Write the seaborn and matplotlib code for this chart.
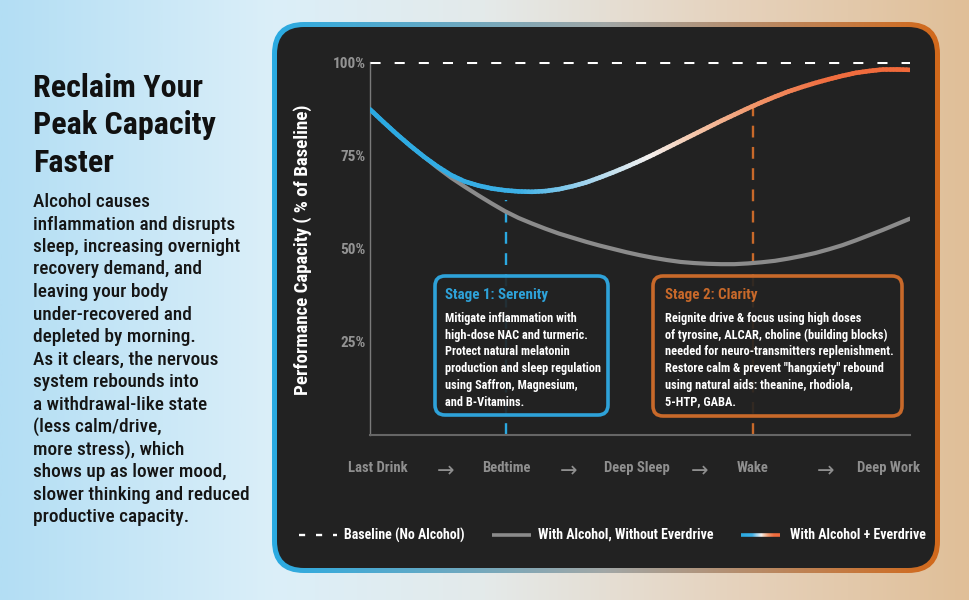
import numpy as np
import matplotlib
matplotlib.use("Agg")
import matplotlib.pyplot as plt
import seaborn as sns
from matplotlib import font_manager as fm
from matplotlib.patches import FancyBboxPatch
from matplotlib.collections import LineCollection
from matplotlib.colors import LinearSegmentedColormap
from matplotlib.transforms import Affine2D

# ---------------- data ----------------
x_pos = [0, 2.5, 5, 7.5, 10, 12.5, 15, 17.5, 20, 22.5, 25, 27.5, 30, 32.5, 35, 37.5, 40,
         42.5, 45, 47.5, 50, 52.5, 55, 57.5, 60, 62.5, 65, 67.5, 70, 72.5, 75, 77.5, 80,
         82.5, 85, 87.5, 90, 92.5, 95, 97.5, 100]
with_everdrive = [87.3, 83.9, 80.6, 77.5, 74.6, 72.0, 69.7, 68.0, 66.9, 66.1, 65.6, 65.3,
                  65.2, 65.4, 65.9, 66.7, 67.7, 69.0, 70.4, 71.9, 73.5, 75.2, 77.0, 78.8,
                  80.6, 82.4, 84.2, 85.9, 87.6, 89.2, 90.7, 92.1, 93.3, 94.4, 95.4, 96.3,
                  97.1, 97.6, 98.0, 98.0, 97.9]
without_everdrive = [87.3, 83.9, 80.6, 77.5, 74.6, 71.7, 69.0, 66.6, 64.3, 62.1, 60.0, 58.2,
                     56.7, 55.3, 54.0, 52.9, 51.8, 50.8, 49.9, 49.0, 48.2, 47.5, 46.9, 46.4,
                     46.1, 45.9, 45.8, 45.8, 46.0, 46.3, 46.7, 47.3, 48.0, 48.8, 49.8, 50.9,
                     52.2, 53.6, 55.0, 56.5, 58.0]
baseline_value = 100

stage_names = ["Last Drink", "Bedtime", "Deep Sleep", "Wake", "Deep Work"]
stage_pos = [1.5, 25.2, 49.4, 70.9, 96.1]
arrow_pos = [13.9, 36.7, 61.1, 84.3]

y_ticks = [25, 50, 75, 100]
y_tick_labels = ["25%", "50%", "75%", "100%"]

marker_x = [25.2, 70.9]
marker_top = [63.0, 88.0]

title_lines = ["Reclaim Your", "Peak Capacity", "Faster"]
body_lines = [
    "Alcohol causes",
    "inflammation and disrupts",
    "sleep, increasing overnight",
    "recovery demand, and",
    "leaving your body",
    "under-recovered and",
    "depleted by morning.",
    "As it clears, the nervous",
    "system rebounds into",
    "a withdrawal-like state",
    "(less calm/drive,",
    "more stress), which",
    "shows up as lower mood,",
    "slower thinking and reduced",
    "productive capacity.",
]
stage1_title = "Stage 1: Serenity"
stage1_lines = [
    "Mitigate inflammation with",
    "high-dose NAC and turmeric.",
    "Protect natural melatonin",
    "production and sleep regulation",
    "using Saffron, Magnesium,",
    "and B-Vitamins.",
]
stage2_title = "Stage 2: Clarity"
stage2_lines = [
    "Reignite drive & focus using high doses",
    "of tyrosine, ALCAR, choline (building blocks)",
    "needed for neuro-transmitters replenishment.",
    "Restore calm & prevent \"hangxiety\" rebound",
    "using natural aids: theanine, rhodiola,",
    "5-HTP, GABA.",
]
legend_labels = ["Baseline (No Alcohol)", "With Alcohol, Without Everdrive", "With Alcohol + Everdrive"]

# ---------------- style ----------------
sns.set_style("dark")
names = {f.name for f in fm.fontManager.ttflist}
COND = next((n for n in ["Roboto Condensed", "Open Sans Condensed", "Liberation Sans Narrow",
                         "DejaVu Sans"] if n in names), "DejaVu Sans")
plt.rcParams["font.family"] = [COND, "DejaVu Sans"]

BLUE = "#2BA9E1"
ORANGE = "#C8692A"
GREY = "#8b8b8b"
PANEL = "#222222"

W, H = 970, 600
fig = plt.figure(figsize=(W / 100, H / 100), dpi=100)
PX = Affine2D().scale(1 / W, -1 / H).translate(0, 1) + fig.transFigure

# ---------------- background + panel ----------------
bg = fig.add_axes([0, 0, 1, 1], zorder=0)
bg.axis("off")
grad = np.linspace(0, 1, 512)[None, :]
bg_cmap = LinearSegmentedColormap.from_list(
    "bg", [(0, "#b3def4"), (0.28, "#dbeff9"), (0.5, "#e4eaea"), (0.75, "#e6d3be"), (1, "#e0bf98")])
bg.imshow(grad, extent=(0, W, H, 0), cmap=bg_cmap, aspect="auto", zorder=0)

outer = FancyBboxPatch((272, 22), 668, 551, boxstyle="round,pad=0,rounding_size=32",
                       facecolor="none", edgecolor="none")
bg.add_patch(outer)
border_cmap = LinearSegmentedColormap.from_list(
    "border", [(0, "#2AABE2"), (0.5, "#A2A7A6"), (1, "#D2691B")])
im = bg.imshow(grad, extent=(272, 940, 573, 22), cmap=border_cmap, aspect="auto", zorder=1)
im.set_clip_path(outer)
inner = FancyBboxPatch((277, 27), 658, 541, boxstyle="round,pad=0,rounding_size=27",
                       facecolor=PANEL, edgecolor="none", zorder=2)
bg.add_patch(inner)

# left text
for i, t in enumerate(title_lines):
    bg.text(33, 97 + 37.5 * i, t, fontsize=23, fontweight="bold", color="#111111",
            va="baseline", ha="left", zorder=3)
for i, t in enumerate(body_lines):
    bg.text(33, 207 + 22.5 * i, t, fontsize=13.9, fontweight="medium", color="#151515",
            va="baseline", ha="left", zorder=3)

# y label
bg.text(303, 250, "Performance Capacity ( % of Baseline)", rotation=90, fontsize=13.6,
        fontweight="bold", color="white", ha="center", va="center", zorder=3)

# gradient colormap for Everdrive line
ever_cmap = LinearSegmentedColormap.from_list(
    "ever", [(0, "#29A9E1"), (0.28, "#3DB0E6"), (0.40, "#9FD3EE"), (0.52, "#F4F1EF"),
             (0.60, "#F5C9AE"), (0.72, "#F19468"), (0.85, "#F06E40"), (1, "#F0693A")])

# legend (drawn in pixel space)
bg.plot([299, 337], [535, 535], color="white", lw=1.7, ls=(0, (2.6, 4.6)), zorder=3,
        solid_capstyle="butt")
bg.text(344, 535, legend_labels[0], color="white", fontsize=10, fontweight="bold",
        va="center", ha="left", zorder=3)
bg.plot([492, 531], [535, 535], color=GREY, lw=2.6, zorder=3, solid_capstyle="butt")
bg.text(538, 535, legend_labels[1], color="white", fontsize=10, fontweight="bold",
        va="center", ha="left", zorder=3)
lx = np.linspace(741, 780, 40)
lsegs = [[(lx[i], 535), (lx[i + 1], 535)] for i in range(len(lx) - 1)]
lcols = ever_cmap(np.linspace(0, 1, len(lsegs)))
bg.add_collection(LineCollection(lsegs, colors=lcols, linewidths=2.6, zorder=3))
bg.text(790, 535, legend_labels[2], color="white", fontsize=10, fontweight="bold",
        va="center", ha="left", zorder=3)

bg.set_xlim(0, W)
bg.set_ylim(H, 0)

# ---------------- main chart ----------------
ax = fig.add_axes([370 / W, 1 - 435 / H, 540 / W, 373 / H], zorder=2)
ax.set_facecolor("none")

# stage marker lines
ax.vlines(marker_x, 0, marker_top, colors=[BLUE, ORANGE], linestyles=(0, (5, 4)),
          linewidth=1.7, zorder=1)

# baseline
sns.lineplot(x=[x_pos[0], x_pos[-1]], y=[baseline_value, baseline_value], ax=ax,
             color="white", linewidth=2.2, linestyle=(0, (3.3, 4.6)), zorder=3)

# without Everdrive
sns.lineplot(x=x_pos, y=without_everdrive, ax=ax, color=GREY, linewidth=3.0, zorder=3,
             solid_capstyle="round")

# with Everdrive: gradient coloured polyline (same straight segments, split for colour only)
pts = np.column_stack([x_pos, with_everdrive]).astype(float)
segs, cvals = [], []
ts = np.linspace(0, 1, 5)
for i in range(len(pts) - 1):
    p, q = pts[i], pts[i + 1]
    for a, b in zip(ts[:-1], ts[1:]):
        s0 = p + (q - p) * a
        s1 = p + (q - p) * b
        segs.append([s0, s1])
        cvals.append((s0[0] + s1[0]) / 2 / 100)
lc = LineCollection(segs, colors=ever_cmap(np.array(cvals)), linewidths=3.3,
                    capstyle="round", zorder=4)
ax.add_collection(lc)

ax.set_xlim(0, 100)
ax.set_ylim(0, 100)

# ticks
ax.set_yticks(y_ticks, y_tick_labels)
ax.tick_params(axis="y", length=0, pad=3, labelcolor="#939393", labelsize=11)
xt = sorted([(p, n) for p, n in zip(stage_pos, stage_names)] + [(p, "→") for p in arrow_pos])
ax.set_xticks([p for p, _ in xt], [n for _, n in xt])
ax.tick_params(axis="x", length=0, pad=19, labelcolor="#8f8f8f", labelsize=10.5)
for lab in ax.get_xticklabels():
    if lab.get_text() == "→":
        lab.set_fontsize(15)
        lab.set_family(["DejaVu Sans"])
    else:
        lab.set_fontweight("bold")
for lab in ax.get_yticklabels():
    lab.set_fontweight("bold")
ax.set_xlabel("")
ax.set_ylabel("")
ax.grid(False)
for side in ["top", "right"]:
    ax.spines[side].set_visible(False)
ax.spines["left"].set_color("#7a7a7a")
ax.spines["left"].set_linewidth(1.0)
ax.spines["bottom"].set_color("#666666")
ax.spines["bottom"].set_linewidth(1.5)

# stage boxes
def stage_box(x0, y0, w, h, color, title, lines, tx, fs):
    box = FancyBboxPatch((x0, y0), w, h, boxstyle="round,pad=0,rounding_size=10",
                         transform=PX, facecolor=(0.133, 0.133, 0.133, 0.9),
                         edgecolor=color, linewidth=2.6, zorder=5, clip_on=False)
    ax.add_patch(box)
    ax.text(tx, y0 + 19, title, transform=PX, color=color, fontsize=10.8, fontweight="bold",
            va="center", ha="left", zorder=6, clip_on=False)
    for i, t in enumerate(lines):
        ax.text(tx, y0 + 46 + 16.7 * i, t, transform=PX, color="white", fontsize=fs,
                fontweight="bold", va="baseline", ha="left", zorder=6, clip_on=False)

stage_box(435, 276, 173, 139, "#2EA2D9", stage1_title, stage1_lines, 445, 8.85)
stage_box(653, 276, 249, 140, ORANGE, stage2_title, stage2_lines, 665, 8.9)

fig.savefig("out.png", dpi=100)
